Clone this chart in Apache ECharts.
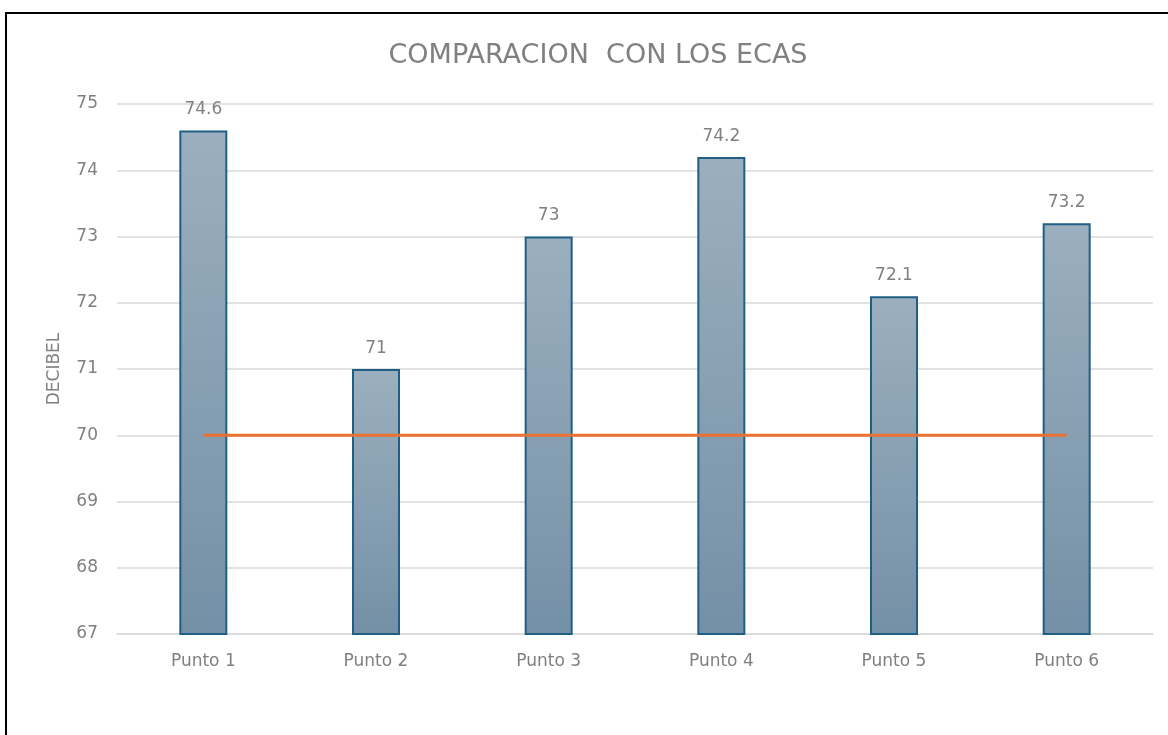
<!DOCTYPE html>
<html>
<head>
<meta charset="utf-8">
<script src="https://cdn.jsdelivr.net/npm/echarts@6/dist/echarts.min.js"></script>
<style>
  html, body { margin: 0; padding: 0; background: #fff; }
  #chart { width: 1168px; height: 735px; }
</style>
</head>
<body>
<div id="chart"></div>
<script>
const categories = ['Punto 1', 'Punto 2', 'Punto 3', 'Punto 4', 'Punto 5', 'Punto 6'];
const decibels = [74.6, 71, 73, 74.2, 72.1, 73.2];
const ecaLimit = [70, 70, 70, 70, 70, 70];

const chartDom = document.getElementById('chart');
const myChart = echarts.init(chartDom);
const font = '"DejaVu Sans", "Open Sans", sans-serif';
const textGray = '#808080';

const option = {
    animation: false,
    backgroundColor: '#fff',
    textStyle: { fontFamily: font },
    graphic: [{
        type: 'rect',
        shape: { x: 6, y: 13, width: 1200, height: 800 },
        style: { fill: 'none', stroke: '#000', lineWidth: 2 },
        z: 10
    }],
    title: {
        text: 'COMPARACION  CON LOS ECAS',
        left: 593,
        textAlign: 'center',
        top: 37,
        textStyle: { fontFamily: font, fontSize: 27, fontWeight: 'normal', color: textGray }
    },
    grid: { left: 117, right: 15, top: 104, bottom: 101 },
    xAxis: {
        type: 'category',
        data: categories,
        axisLine: { lineStyle: { color: '#d9d9d9', width: 1.5 } },
        axisTick: { show: false },
        axisLabel: { color: textGray, fontSize: 17, margin: 19, fontFamily: font }
    },
    yAxis: {
        type: 'value',
        min: 67,
        max: 75,
        interval: 1,
        name: 'DECIBEL',
        nameLocation: 'middle',
        nameGap: 54,
        nameTextStyle: { color: textGray, fontSize: 17, fontFamily: font },
        axisLine: { show: false },
        axisTick: { show: false },
        axisLabel: { color: textGray, fontSize: 17, margin: 19, fontFamily: font },
        splitLine: { lineStyle: { color: '#d9d9d9', width: 1.5 } }
    },
    series: [
        {
            name: 'Decibel',
            type: 'bar',
            data: decibels,
            barWidth: 48,
            itemStyle: {
                color: new echarts.graphic.LinearGradient(0, 0, 0, 1, [
                    { offset: 0, color: '#9bafbe' },
                    { offset: 1, color: '#7490a6' }
                ]),
                borderColor: '#1f5f85',
                borderWidth: 2
            },
            label: {
                show: true,
                position: 'top',
                distance: 12,
                color: textGray,
                fontSize: 17,
                fontFamily: font
            }
        },
        {
            name: 'ECA',
            type: 'line',
            data: ecaLimit,
            symbol: 'none',
            lineStyle: { color: '#e97132', width: 3 },
            z: 5
        }
    ]
};
option && myChart.setOption(option);
</script>
</body>
</html>
